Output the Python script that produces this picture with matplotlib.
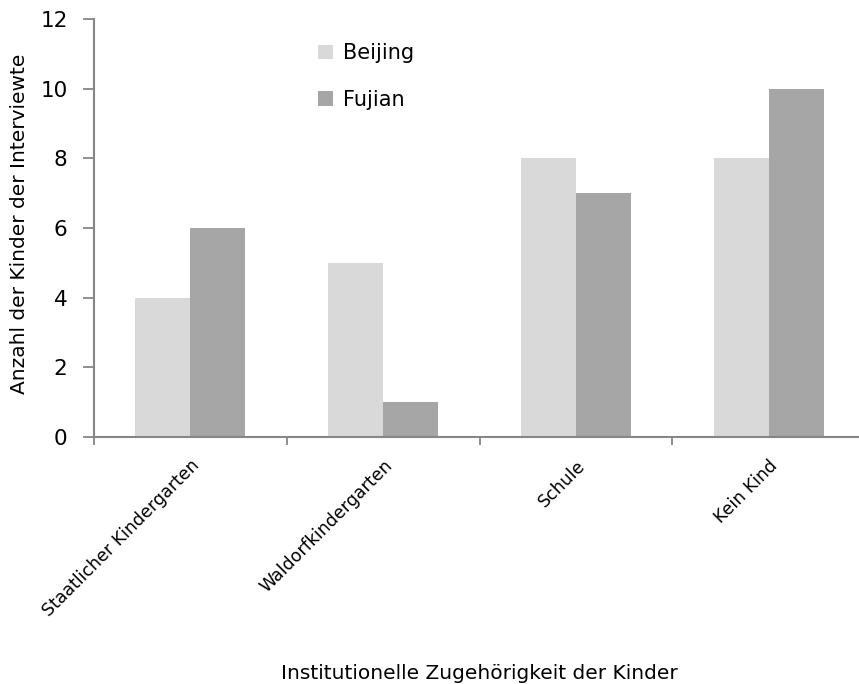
import numpy as np
import matplotlib.pyplot as plt

# survey counts per institution type and region
categories = ['Staatlicher Kindergarten', 'Waldorfkindergarten', 'Schule', 'Kein Kind']
beijing = [4, 5, 8, 8]
fujian = [6, 1, 7, 10]
series_names = ['Beijing', 'Fujian']

plt.rcParams['font.family'] = ['DejaVu Sans']
axis_grey = '#868686'

fig = plt.figure(figsize=(8.59, 6.84), dpi=100)
ax = fig.add_axes([94 / 859, 247 / 684, 771 / 859, 418 / 684])

x = np.arange(len(categories))
w = 1 / 3.5  # Excel-style gap width of 150%
ax.bar(x - w / 2, beijing, width=w, color='#D9D9D9', label=series_names[0])
ax.bar(x + w / 2, fujian, width=w, color='#A6A6A6', label=series_names[1])

ax.set_xlim(-0.5, len(categories) - 0.5)
ax.set_ylim(0, 12)
ax.set_yticks(np.arange(0, 13, 2))

# category ticks sit between the groups, labels under the group centres
ax.set_xticks(np.arange(-0.5, len(categories)), minor=False)
ax.set_xticklabels([])
ax.set_xticks(x, minor=True)
ax.set_xticklabels(categories, minor=True, rotation=45, ha='right',
                   rotation_mode='anchor', fontsize=12.5)
ax.tick_params(axis='x', which='minor', length=0, pad=14)
ax.tick_params(axis='x', which='major', length=6, width=1.3, color=axis_grey)
ax.tick_params(axis='y', length=8, width=1.3, color=axis_grey, labelsize=15.5, pad=11)

for side in ['top', 'right']:
    ax.spines[side].set_visible(False)
for side in ['left', 'bottom']:
    ax.spines[side].set_color(axis_grey)
    ax.spines[side].set_linewidth(1.5)

ax.set_ylabel('Anzahl der Kinder der Interviewte', fontsize=14.5)
ax.yaxis.set_label_coords(-0.084, 0.51)
ax.set_xlabel('Institutionelle Zugehörigkeit der Kinder', fontsize=14.5)
ax.xaxis.set_label_coords(0.5, -0.543)

ax.legend(loc='upper left', bbox_to_anchor=(0.2665, 0.987), frameon=False,
          fontsize=15, handlelength=0.7, handleheight=0.7,
          handletextpad=0.5, labelspacing=1.27)

fig.savefig('out.png', dpi=100)
